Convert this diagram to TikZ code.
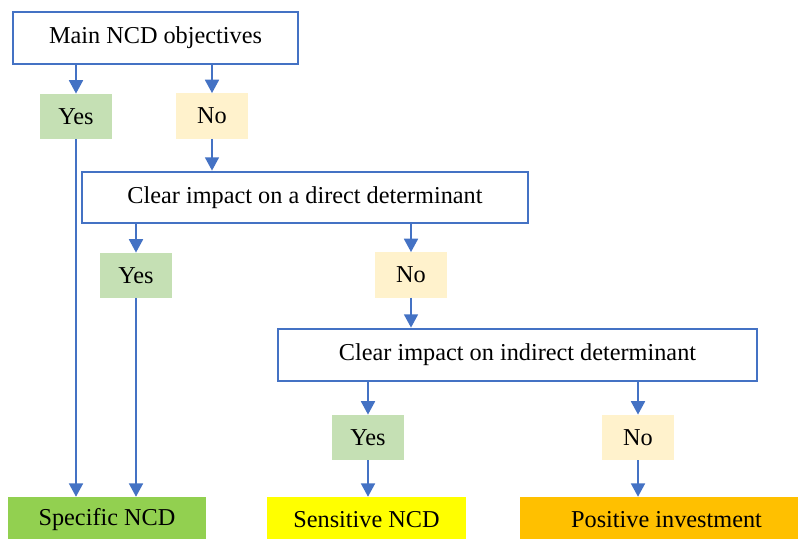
\documentclass[tikz,border=0pt]{standalone}
\usepackage{fontspec}
\setmainfont{Liberation Serif}
\usetikzlibrary{arrows.meta}
\definecolor{lblue}{HTML}{4472C4}
\definecolor{yesfill}{HTML}{C5E0B4}
\definecolor{nofill}{HTML}{FFF2CC}
\definecolor{specfill}{HTML}{92D050}
\definecolor{sensfill}{HTML}{FFFF00}
\definecolor{posfill}{HTML}{FFC000}
\begin{document}
\begin{tikzpicture}[x=0.75pt,y=-0.75pt,
  every node/.style={font=\fontsize{18.2}{21}\selectfont, inner sep=0pt, align=center},
  qbox/.style={draw=lblue, line width=2.1pt, fill=white, minimum height=39pt},
  yesbox/.style={fill=yesfill, minimum width=54pt, minimum height=34pt},
  nobox/.style={fill=nofill, minimum width=54pt, minimum height=34pt},
  endbox/.style={minimum height=34.5pt},
  conn/.style={draw=lblue, line width=1.3pt, -{Triangle[width=10.5pt,length=10pt]}}
]
\clip (0,0) rectangle (798,538);
\fill[white] (0,0) rectangle (798,538);

\node[qbox, minimum width=213.75pt] (main) at (155.5,38) {Main NCD objectives};
\node[yesbox] (yes1) at (76,116.5) {Yes};
\node[nobox] (no1) at (212,116) {No};

\node[qbox, minimum width=334.5pt, minimum height=38.25pt] (direct) at (305,197.5) {Clear impact on a direct determinant};
\node[yesbox] (yes2) at (136,275.5) {Yes};
\node[nobox] (no2) at (411,275) {No};

\node[qbox, minimum width=359.25pt] (indirect) at (517.5,355) {Clear impact on indirect determinant};
\node[yesbox] (yes3) at (368,437.5) {Yes};
\node[nobox] (no3) at (638,437.5) {No};

\node[endbox, fill=specfill, minimum width=148.5pt] (spec) at (107,520) {Specific NCD};
\node[endbox, fill=sensfill, minimum width=149.25pt] (sens) at (366.5,520) {Sensitive NCD};
\node[endbox, fill=posfill, minimum width=219.75pt] (pos) at (666.5,520) {Positive investment};

\draw[conn] (main.south -| yes1) -- (yes1.north);
\draw[conn] (main.south -| no1) -- (no1.north);
\draw[conn] (no1.south) -- (no1.south |- direct.north);
\draw[conn] (yes1.south) -- (yes1.south |- spec.north);

\draw[conn] (direct.south -| yes2) -- (yes2.north);
\draw[conn] (direct.south -| no2) -- (no2.north);
\draw[conn] (yes2.south) -- (yes2.south |- spec.north);
\draw[conn] (no2.south) -- (no2.south |- indirect.north);

\draw[conn] (indirect.south -| yes3) -- (yes3.north);
\draw[conn] (indirect.south -| no3) -- (no3.north);
\draw[conn] (yes3.south) -- (yes3.south |- sens.north);
\draw[conn] (no3.south) -- (no3.south |- pos.north);
\end{tikzpicture}
\end{document}
